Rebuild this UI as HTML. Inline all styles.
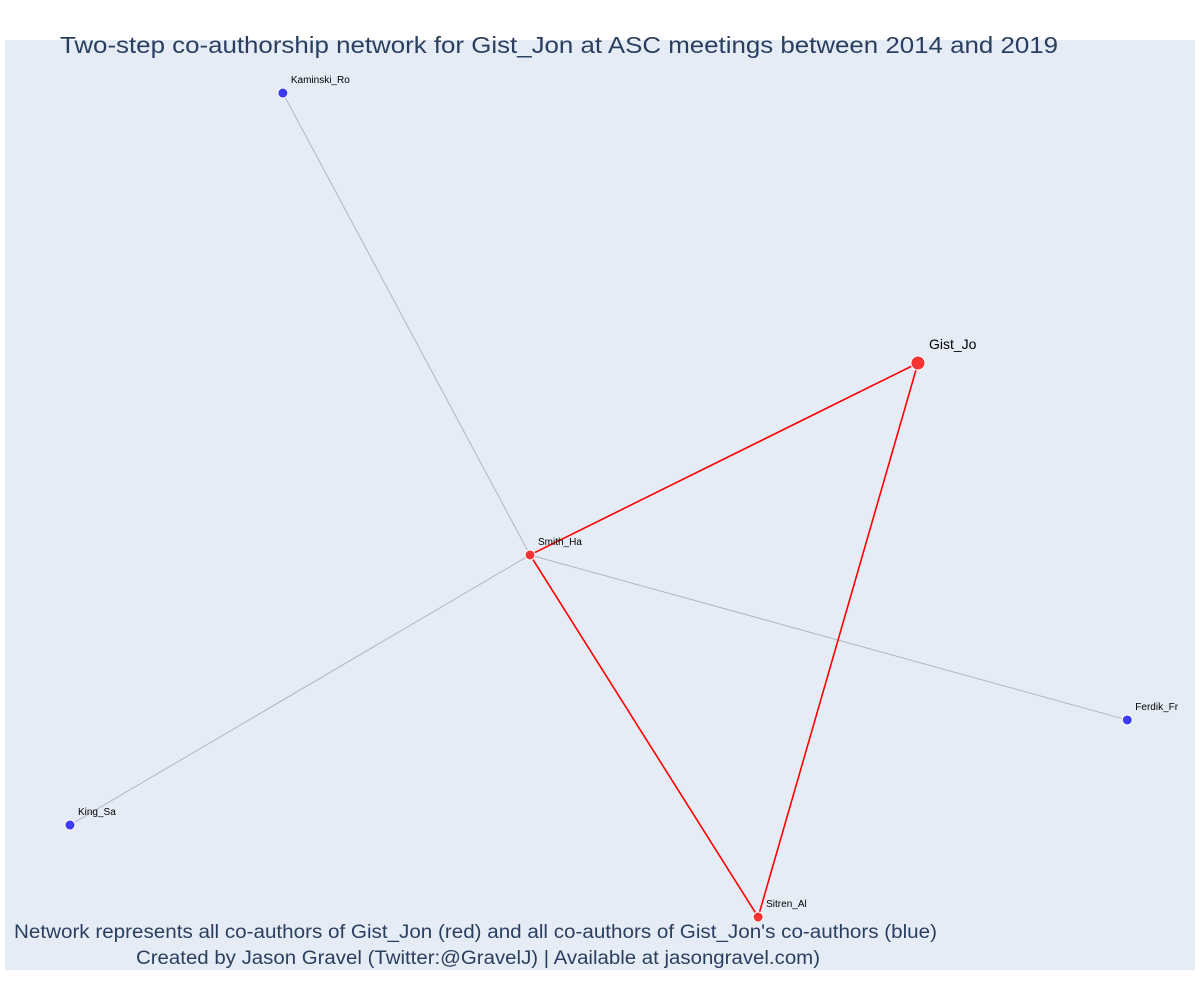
<!DOCTYPE html>
<html><head><meta charset="utf-8"><style>
body{margin:0;background:#fff;}
svg{display:block;font-family:"Liberation Sans","DejaVu Sans",sans-serif;}
</style></head><body>
<svg id="chart" width="1200" height="1000">
<rect x="5" y="40" width="1190" height="930" fill="#e5ecf6"/>
<g id="edges"></g>
<g id="nodes"></g>
<text x="60" y="53" font-size="23" fill="#2a3f5f" textLength="998" lengthAdjust="spacingAndGlyphs">Two-step co-authorship network for Gist_Jon at ASC meetings between 2014 and 2019</text>
<text x="14" y="938" font-size="19" fill="#2a3f5f" textLength="923" lengthAdjust="spacingAndGlyphs">Network represents all co-authors of Gist_Jon (red) and all co-authors of Gist_Jon's co-authors (blue)</text>
<text x="136" y="964" font-size="19" fill="#2a3f5f" textLength="684" lengthAdjust="spacingAndGlyphs">Created by Jason Gravel (Twitter:@GravelJ) | Available at jasongravel.com)</text>
</svg>
<script>
const nodeNames=["Kaminski_Ro","Gist_Jo","Smith_Ha","Ferdik_Fr","King_Sa","Sitren_Al"];
const nodeX=[0.2335,0.7672,0.4412,0.9431,0.0546,0.6329];
const nodeY=[0.9505,0.6602,0.4538,0.2764,0.1634,0.0645];
const nodeGroup=["blue","focal","red","blue","blue","red"];
const edgeFrom=[2,2,2,2,2,1];
const edgeTo=[0,1,3,4,5,5];
const edgeGroup=["grey","red","grey","grey","red","red"];
const X0=5,W=1190,Y0=47,H=930;
const sx=v=>X0+v*W, sy=v=>Y0+H-v*H;
const NS="http://www.w3.org/2000/svg";
const eg=document.getElementById('edges'), ng=document.getElementById('nodes');
edgeFrom.forEach((f,i)=>{
  const t=edgeTo[i];
  const l=document.createElementNS(NS,'line');
  l.setAttribute('x1',sx(nodeX[f]));l.setAttribute('y1',sy(nodeY[f]));
  l.setAttribute('x2',sx(nodeX[t]));l.setAttribute('y2',sy(nodeY[t]));
  l.setAttribute('stroke',edgeGroup[i]==='red'?'#ff0000':'#b4b4c4');
  l.setAttribute('stroke-width',edgeGroup[i]==='red'?1.6:1);
  
  
  eg.appendChild(l);
});
nodeNames.forEach((n,i)=>{
  const g=nodeGroup[i];
  const c=document.createElementNS(NS,'circle');
  const cx=sx(nodeX[i]), cy=sy(nodeY[i]);
  const r=g==='focal'?7:5;
  c.setAttribute('cx',cx);c.setAttribute('cy',cy);c.setAttribute('r',r);
  c.setAttribute('fill',g==='blue'?'#3b3bf5':'#f53333');
  c.setAttribute('stroke','#ffffff');c.setAttribute('stroke-width',1);
  
  
  ng.appendChild(c);
  const t=document.createElementNS(NS,'text');
  t.setAttribute('x',cx+(g==='focal'?11:8));
  t.setAttribute('y',cy-(g==='focal'?14:10));
  t.setAttribute('font-size',g==='focal'?14:10);
  t.setAttribute('fill','#000');
  t.textContent=n;
  
  
  ng.appendChild(t);
});
</script>
</body></html>
